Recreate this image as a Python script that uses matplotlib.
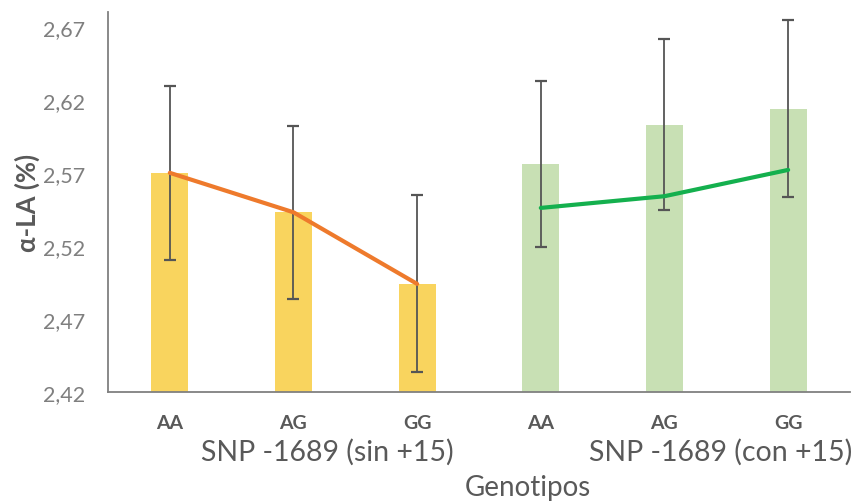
import numpy as np
import matplotlib
matplotlib.use('Agg')
import matplotlib.pyplot as plt
from matplotlib.transforms import blended_transform_factory

plt.rcParams['font.family'] = ['Lato', 'DejaVu Sans']

genotypes = ['AA', 'AG', 'GG', 'AA', 'AG', 'GG']
groups = ['SNP -1689 (sin +15)', 'SNP -1689 (con +15)']

bars_sin = [2.570, 2.543, 2.494]
err_sin = [0.0595, 0.059, 0.0605]
line_sin = [2.570, 2.543, 2.494]

bars_con = [2.576, 2.603, 2.614]
err_con = [0.057, 0.0585, 0.0605]
line_con = [2.546, 2.554, 2.572]

yticks = [2.42, 2.47, 2.52, 2.57, 2.62, 2.67]

fig = plt.figure(figsize=(8.61, 5.02), dpi=100)
ax = fig.add_axes([0.1254, 0.217, 0.8618, 0.757])

x_sin = np.arange(3)
x_con = np.arange(3) + 3
bottom = 2.42

ax.bar(x_sin, np.array(bars_sin) - bottom, bottom=bottom, width=0.3,
       color='#F9D45E', zorder=1)
ax.bar(x_con, np.array(bars_con) - bottom, bottom=bottom, width=0.3,
       color='#C8E0B4', zorder=1)

ax.errorbar(x_sin, bars_sin, yerr=err_sin, fmt='none', ecolor='#555555',
            elinewidth=1.3, capsize=4, capthick=1.6, zorder=3)
ax.errorbar(x_con, bars_con, yerr=err_con, fmt='none', ecolor='#555555',
            elinewidth=1.3, capsize=4, capthick=1.6, zorder=3)

ax.plot(x_sin, line_sin, color='#EE7A2C', lw=3, zorder=4, solid_capstyle='round')
ax.plot(x_con, line_con, color='#14B04E', lw=3, zorder=4, solid_capstyle='round')

ax.set_xlim(-0.5, 5.5)
ax.set_ylim(2.42, 2.68)
ax.set_yticks(yticks)
ax.set_yticklabels([f'{v:.2f}'.replace('.', ',') for v in yticks],
                   fontsize=15.5, color='#7F7F7F')
ax.set_xticks(range(6))
ax.set_xticklabels(genotypes, fontsize=14, fontweight='bold', color='#595959')
ax.tick_params(axis='both', length=0)
ax.tick_params(axis='x', pad=16)
ax.tick_params(axis='y', pad=16.5)

for side in ['top', 'right']:
    ax.spines[side].set_visible(False)
for side in ['left', 'bottom']:
    ax.spines[side].set_color('#808080')
    ax.spines[side].set_linewidth(1.3)

trans = blended_transform_factory(ax.transData, fig.transFigure)
ax.text(1.27, 1 - 452 / 502, groups[0], transform=trans, ha='center', va='center',
        fontsize=20.5, color='#595959')
ax.text(4.45, 1 - 452 / 502, groups[1], transform=trans, ha='center', va='center',
        fontsize=20.5, color='#595959')
fig.text(528 / 861, 1 - 488 / 502, 'Genotipos', ha='center', va='center',
         fontsize=20, color='#595959')
fig.text(27 / 861, 1 - 203 / 502, 'α-LA (%)', ha='center', va='center',
         rotation=90, fontsize=18.5, fontweight='bold', color='#595959')

fig.savefig('out.png', dpi=100, facecolor='white')
